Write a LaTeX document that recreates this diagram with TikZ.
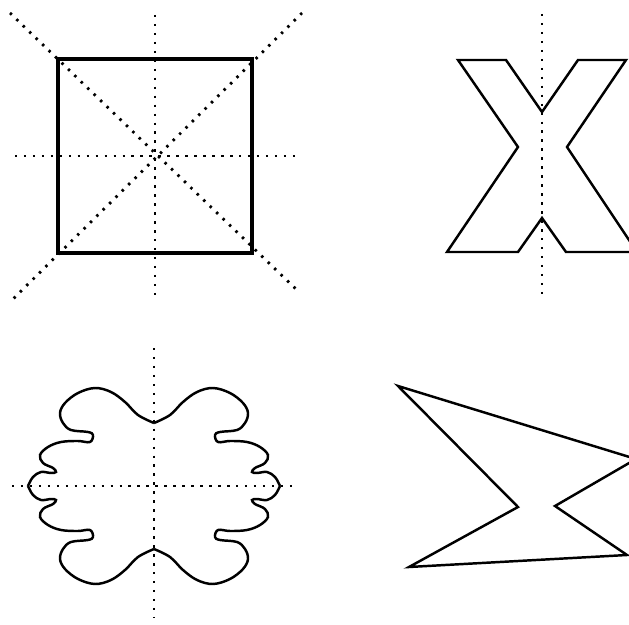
\documentclass[tikz,border=0pt]{standalone}
\usepackage{tikz}

\begin{document}
\begin{tikzpicture}[
    x=0.02cm, y=-0.02cm,
    outline/.style={draw=black, line width=1.4pt, line join=miter},
    heavy/.style={outline, line width=1.8pt},
    axis/.style={draw=black, line width=1.6pt, dash pattern=on 1.4pt off 3.7pt}
]

\useasboundingbox (0,0) rectangle (629,625);
\clip (0,0) rectangle (629,625);

% ================= CENTRES =================
\coordinate (sq) at (155,156);
\coordinate (ex) at (542,156);
\coordinate (blob) at (154,486);

% ================= SQUARE =================
\begin{scope}[shift={(sq)}]
\draw[heavy] (-97,-97) rectangle (97,97);
\draw[axis] (-140,0) -- (143,0);
\draw[axis] (0,-141) -- (0,139);
\draw[axis] (-145,-143) -- (145,137);
\draw[axis] (147,-143) -- (-145,146);
\end{scope}

% ================= LETTER X =================
\begin{scope}[shift={(ex)}]
\draw[outline] (-84,-96) -- (-36,-96) -- (0,-44) -- (36,-96) -- (84,-96)
    -- (25,-9) -- (95,96) -- (24,96) -- (0,62) -- (-24,96) -- (-95,96)
    -- (-24,-9) -- cycle;
\draw[axis] (0,-142) -- (0,139);
\end{scope}

% ================= BLOB =================
% one quarter, mirrored four times
\foreach \sx/\sy in {1/1,-1/1,1/-1,-1/-1}
  \draw[outline, shift={(blob)}, xscale=\sx, yscale=-\sy]
    plot[smooth, tension=0.6] coordinates {
      (0,63) (16,71) (29,84) (43,94) (59,98) (76,93) (89,83) (94,73)
      (91,63) (83,56) (66,54) (61,51) (64,44) (76,45) (93,44) (106,39)
      (114,31) (111,23) (101,18) (98,14) (103,13) (113,14) (121,9) (126,0)};
\begin{scope}[shift={(blob)}]
\draw[axis] (-142,0) -- (143,0);
\draw[axis] (0,-138) -- (0,132);
\end{scope}

% ================= NO SYMMETRY =================
\draw[outline] (398,386) -- (636,459) -- (555,506) -- (627,555)
    -- (409,567) -- (518,507) -- cycle;

\end{tikzpicture}
\end{document}
